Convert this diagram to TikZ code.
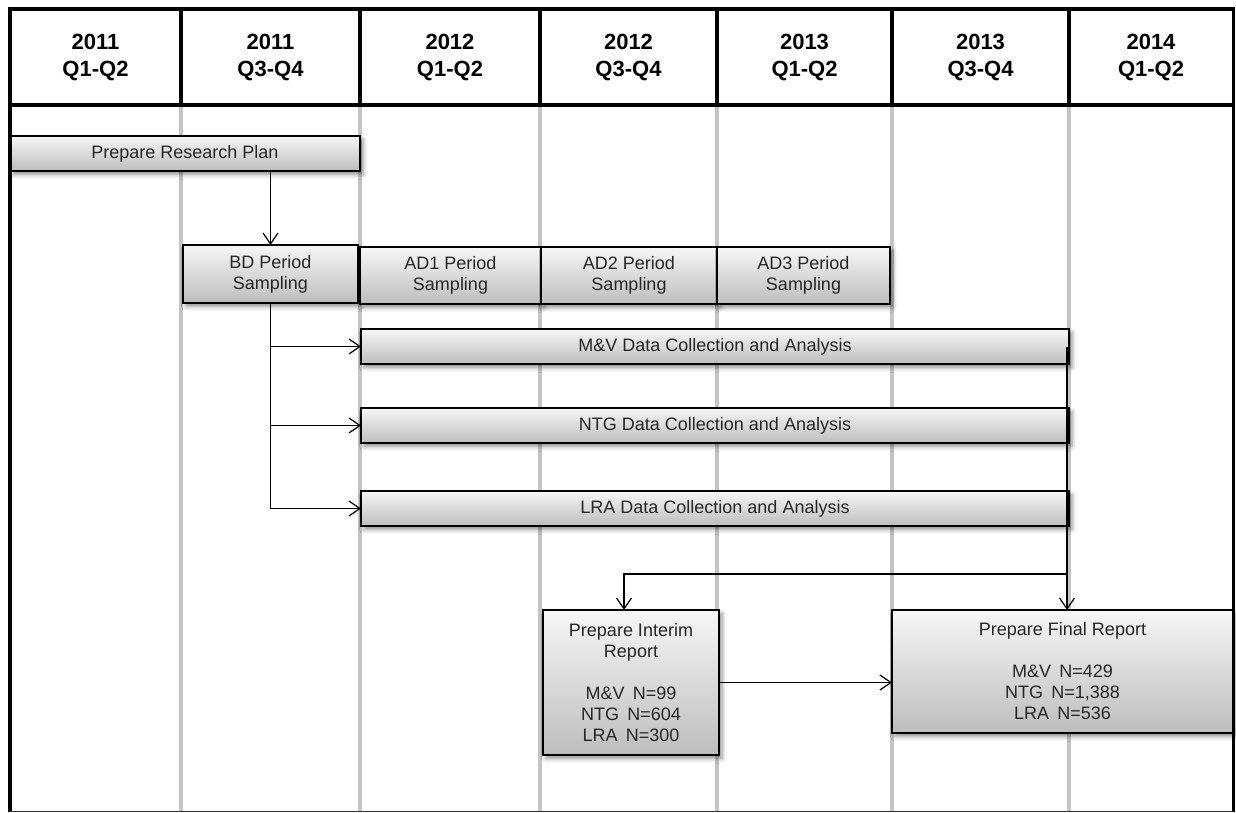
\documentclass[tikz,border=0pt]{standalone}
\usepackage{fontspec}
\setmainfont{Liberation Sans}
\usetikzlibrary{arrows.meta,shadows.blur}
\begin{document}
\begin{tikzpicture}[x=1pt,y=-1pt,
 box/.style={draw=black, line width=1.1pt, top color=gray!7, bottom color=gray!52,
   inner sep=0pt, outer sep=0pt, anchor=north west, align=center,
   font=\fontsize{18}{21}\selectfont, text=black!85,
   blur shadow={shadow xshift=3pt, shadow yshift=-3.5pt, shadow blur radius=4.5pt, shadow opacity=45}},
 hdr/.style={font=\bfseries\fontsize{22}{27}\selectfont, align=center},
 conn/.style={line width=1.3pt, -{Straight Barb[length=11pt,width=15pt,line width=1.2pt]}},
 plainline/.style={line width=1.3pt},
 gridline/.style={draw=black!23, line width=3.5pt},
 frame/.style={draw=black, line width=3.5pt},
]
\useasboundingbox (0,0) rectangle (1236,813);
% grey column lines
\foreach \x in {181,360,540,717,892,1069} \draw[gridline] (\x,105) -- (\x,812);
% header texts
\node[hdr] (h1) at (95.5,57) {2011\\Q1-Q2};
\node[hdr] (h2) at (270.5,57) {2011\\Q3-Q4};
\node[hdr] (h3) at (450,57) {2012\\Q1-Q2};
\node[hdr] (h4) at (628.5,57) {2012\\Q3-Q4};
\node[hdr] (h5) at (804.5,57) {2013\\Q1-Q2};
\node[hdr] (h6) at (980.5,57) {2013\\Q3-Q4};
\node[hdr] (h7) at (1151,57) {2014\\Q1-Q2};
% boxes
\node[box, minimum width=350pt, minimum height=35pt] (rp) at (10,136) {Prepare Research Plan};
\node[box, minimum width=175pt, minimum height=58pt] (bd) at (183,245) {BD Period\\Sampling};
\node[box, minimum width=181pt, minimum height=57pt] (ad1) at (360,247) {AD1 Period\\Sampling};
\node[box, minimum width=176pt, minimum height=57pt] (ad2) at (541,247) {AD2 Period\\Sampling};
\node[box, minimum width=173pt, minimum height=57pt] (ad3) at (717,247) {AD3 Period\\Sampling};
\node[box, minimum width=708pt, minimum height=35pt] (mv) at (361,329) {M\&V Data Collection and Analysis};
\node[box, minimum width=708pt, minimum height=35pt] (ntg) at (361,408) {NTG Data Collection and Analysis};
\node[box, minimum width=708pt, minimum height=35pt] (lra) at (361,491) {LRA Data Collection and Analysis};
\node[box, minimum width=176pt, minimum height=145pt] (int) at (543,610)
  {Prepare Interim\\Report\\[21pt]M\&V\hspace{0.45em}N=99\\NTG\hspace{0.45em}N=604\\LRA\hspace{0.45em}N=300};
\node[box, minimum width=341pt, minimum height=123pt] (fin) at (892,610)
  {Prepare Final Report\\[21pt]M\&V\hspace{0.45em}N=429\\NTG\hspace{0.45em}N=1,388\\LRA\hspace{0.45em}N=536};
% connectors
\coordinate (yj) at (0,574);
\draw[conn] (rp.south -| bd.north) -- (bd.north);
\draw[plainline] (bd.south) -- (bd.south |- lra.west);
\draw[conn] (bd.south |- mv.west) -- (mv.west);
\draw[conn] (bd.south |- ntg.west) -- (ntg.west);
\draw[conn] (bd.south |- lra.west) -- (lra.west);
\draw[conn] ([xshift=-2pt]mv.east) -- ([xshift=-2pt]mv.east |- fin.north);
\coordinate (jn) at ([xshift=-2pt]mv.east |- yj);
\draw[conn] (jn) -| ([xshift=-7pt]int.north);
\draw[conn] (int.east) -- (int.east -| fin.west);
% frame
\draw[frame] (10,9) -- (1233,9);
\draw[frame, line width=4pt] (10,105) -- (1233,105);
\foreach \x in {181,360,540,717,892,1069} \draw[frame] (\x,9) -- (\x,105);
\draw[frame, line width=4pt] (10,7) -- (10,812);
\draw[frame, line width=3pt] (1233,7) -- (1233,812);
\draw[draw=black!80, line width=1.5pt] (10,811.5) -- (1233,811.5);
\end{tikzpicture}
\end{document}
